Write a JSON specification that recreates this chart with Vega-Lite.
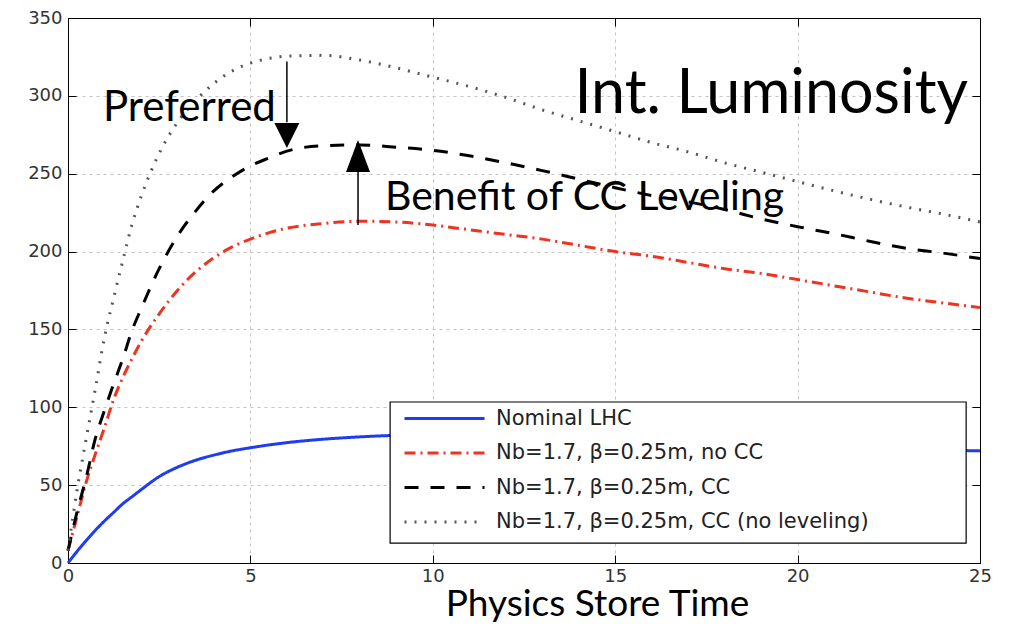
{
  "$schema": "https://vega.github.io/schema/vega-lite/v6.json",
  "width": 912,
  "height": 545,
  "autosize": {"type": "none"},
  "padding": {"left": 68, "top": 18, "right": 32, "bottom": 61},
  "background": "white",
  "config": {
    "view": {"stroke": "black", "strokeWidth": 1},
    "axis": {"domainColor": "black", "tickColor": "black", "labelFont": "DejaVu Sans", "labelFontSize": 18, "labelColor": "#333333", "labelFlush": false},
    "legend": {"orient": "none", "legendX": 365, "legendY": 389, "title": null, "symbolType": "M-4,0L4,0", "symbolSize": 400, "labelFont": "DejaVu Sans", "labelFontSize": 21, "labelColor": "#222222", "rowPadding": 12.5, "labelOffset": 40, "labelLimit": 0, "padding": 0}
  },
  "datasets": {
    "curves": [
      {"t":0,"L":0,"s":"Nominal LHC"},{"t":0.25,"L":7.5,"s":"Nominal LHC"},{"t":0.5,"L":14.5,"s":"Nominal LHC"},{"t":0.75,"L":21,"s":"Nominal LHC"},{"t":1,"L":27,"s":"Nominal LHC"},{"t":1.25,"L":32.5,"s":"Nominal LHC"},{"t":1.5,"L":38,"s":"Nominal LHC"},{"t":1.75,"L":42.5,"s":"Nominal LHC"},{"t":2,"L":47,"s":"Nominal LHC"},{"t":2.5,"L":55.5,"s":"Nominal LHC"},{"t":3,"L":61.5,"s":"Nominal LHC"},{"t":3.5,"L":66,"s":"Nominal LHC"},{"t":4,"L":69.3,"s":"Nominal LHC"},{"t":4.5,"L":72,"s":"Nominal LHC"},{"t":5,"L":74,"s":"Nominal LHC"},{"t":5.5,"L":75.8,"s":"Nominal LHC"},{"t":6,"L":77.3,"s":"Nominal LHC"},{"t":7,"L":79.5,"s":"Nominal LHC"},{"t":8,"L":81,"s":"Nominal LHC"},{"t":9,"L":82,"s":"Nominal LHC"},{"t":10,"L":82.5,"s":"Nominal LHC"},{"t":11,"L":82.5,"s":"Nominal LHC"},{"t":12,"L":82,"s":"Nominal LHC"},{"t":13,"L":81.5,"s":"Nominal LHC"},{"t":14,"L":80.5,"s":"Nominal LHC"},{"t":15,"L":79.5,"s":"Nominal LHC"},{"t":16,"L":78.5,"s":"Nominal LHC"},{"t":17,"L":77.5,"s":"Nominal LHC"},{"t":18,"L":76.5,"s":"Nominal LHC"},{"t":19,"L":75.5,"s":"Nominal LHC"},{"t":20,"L":74.5,"s":"Nominal LHC"},{"t":21,"L":74,"s":"Nominal LHC"},{"t":22,"L":73.5,"s":"Nominal LHC"},{"t":23,"L":73,"s":"Nominal LHC"},{"t":24,"L":72.5,"s":"Nominal LHC"},{"t":25,"L":72,"s":"Nominal LHC"},
      {"t":0,"L":8,"s":"Nb=1.7, β=0.25m, no CC"},{"t":0.25,"L":30,"s":"Nb=1.7, β=0.25m, no CC"},{"t":0.5,"L":52,"s":"Nb=1.7, β=0.25m, no CC"},{"t":0.75,"L":70,"s":"Nb=1.7, β=0.25m, no CC"},{"t":1,"L":87,"s":"Nb=1.7, β=0.25m, no CC"},{"t":1.25,"L":105,"s":"Nb=1.7, β=0.25m, no CC"},{"t":1.5,"L":119,"s":"Nb=1.7, β=0.25m, no CC"},{"t":1.75,"L":131,"s":"Nb=1.7, β=0.25m, no CC"},{"t":2,"L":142,"s":"Nb=1.7, β=0.25m, no CC"},{"t":2.5,"L":160,"s":"Nb=1.7, β=0.25m, no CC"},{"t":3,"L":175,"s":"Nb=1.7, β=0.25m, no CC"},{"t":3.5,"L":187,"s":"Nb=1.7, β=0.25m, no CC"},{"t":4,"L":196,"s":"Nb=1.7, β=0.25m, no CC"},{"t":4.5,"L":203,"s":"Nb=1.7, β=0.25m, no CC"},{"t":5,"L":208,"s":"Nb=1.7, β=0.25m, no CC"},{"t":5.5,"L":212,"s":"Nb=1.7, β=0.25m, no CC"},{"t":6,"L":215,"s":"Nb=1.7, β=0.25m, no CC"},{"t":7,"L":218,"s":"Nb=1.7, β=0.25m, no CC"},{"t":8,"L":219.5,"s":"Nb=1.7, β=0.25m, no CC"},{"t":9,"L":219,"s":"Nb=1.7, β=0.25m, no CC"},{"t":10,"L":217,"s":"Nb=1.7, β=0.25m, no CC"},{"t":11,"L":214,"s":"Nb=1.7, β=0.25m, no CC"},{"t":12,"L":211,"s":"Nb=1.7, β=0.25m, no CC"},{"t":13,"L":208,"s":"Nb=1.7, β=0.25m, no CC"},{"t":14,"L":204,"s":"Nb=1.7, β=0.25m, no CC"},{"t":15,"L":200,"s":"Nb=1.7, β=0.25m, no CC"},{"t":16,"L":197,"s":"Nb=1.7, β=0.25m, no CC"},{"t":17,"L":193,"s":"Nb=1.7, β=0.25m, no CC"},{"t":18,"L":189,"s":"Nb=1.7, β=0.25m, no CC"},{"t":19,"L":186,"s":"Nb=1.7, β=0.25m, no CC"},{"t":20,"L":182,"s":"Nb=1.7, β=0.25m, no CC"},{"t":21,"L":178,"s":"Nb=1.7, β=0.25m, no CC"},{"t":22,"L":174,"s":"Nb=1.7, β=0.25m, no CC"},{"t":23,"L":170,"s":"Nb=1.7, β=0.25m, no CC"},{"t":24,"L":167,"s":"Nb=1.7, β=0.25m, no CC"},{"t":25,"L":164,"s":"Nb=1.7, β=0.25m, no CC"},
      {"t":0,"L":8,"s":"Nb=1.7, β=0.25m, CC"},{"t":0.25,"L":33,"s":"Nb=1.7, β=0.25m, CC"},{"t":0.5,"L":55,"s":"Nb=1.7, β=0.25m, CC"},{"t":0.75,"L":80,"s":"Nb=1.7, β=0.25m, CC"},{"t":1,"L":98,"s":"Nb=1.7, β=0.25m, CC"},{"t":1.25,"L":115,"s":"Nb=1.7, β=0.25m, CC"},{"t":1.5,"L":131,"s":"Nb=1.7, β=0.25m, CC"},{"t":1.75,"L":149,"s":"Nb=1.7, β=0.25m, CC"},{"t":2,"L":163,"s":"Nb=1.7, β=0.25m, CC"},{"t":2.5,"L":189,"s":"Nb=1.7, β=0.25m, CC"},{"t":3,"L":210,"s":"Nb=1.7, β=0.25m, CC"},{"t":3.5,"L":226,"s":"Nb=1.7, β=0.25m, CC"},{"t":4,"L":239,"s":"Nb=1.7, β=0.25m, CC"},{"t":4.5,"L":248,"s":"Nb=1.7, β=0.25m, CC"},{"t":5,"L":255,"s":"Nb=1.7, β=0.25m, CC"},{"t":5.5,"L":260,"s":"Nb=1.7, β=0.25m, CC"},{"t":6,"L":264.5,"s":"Nb=1.7, β=0.25m, CC"},{"t":7,"L":268,"s":"Nb=1.7, β=0.25m, CC"},{"t":8,"L":268.5,"s":"Nb=1.7, β=0.25m, CC"},{"t":9,"L":267,"s":"Nb=1.7, β=0.25m, CC"},{"t":10,"L":265,"s":"Nb=1.7, β=0.25m, CC"},{"t":11,"L":261.5,"s":"Nb=1.7, β=0.25m, CC"},{"t":12,"L":257,"s":"Nb=1.7, β=0.25m, CC"},{"t":13,"L":252,"s":"Nb=1.7, β=0.25m, CC"},{"t":14,"L":246.5,"s":"Nb=1.7, β=0.25m, CC"},{"t":15,"L":241,"s":"Nb=1.7, β=0.25m, CC"},{"t":16,"L":236,"s":"Nb=1.7, β=0.25m, CC"},{"t":17,"L":232,"s":"Nb=1.7, β=0.25m, CC"},{"t":18,"L":227,"s":"Nb=1.7, β=0.25m, CC"},{"t":19,"L":221,"s":"Nb=1.7, β=0.25m, CC"},{"t":20,"L":216,"s":"Nb=1.7, β=0.25m, CC"},{"t":21,"L":211.5,"s":"Nb=1.7, β=0.25m, CC"},{"t":22,"L":206.5,"s":"Nb=1.7, β=0.25m, CC"},{"t":23,"L":202,"s":"Nb=1.7, β=0.25m, CC"},{"t":24,"L":199,"s":"Nb=1.7, β=0.25m, CC"},{"t":25,"L":195.5,"s":"Nb=1.7, β=0.25m, CC"},
      {"t":0,"L":8,"s":"Nb=1.7, β=0.25m, CC (no leveling)"},{"t":0.25,"L":47,"s":"Nb=1.7, β=0.25m, CC (no leveling)"},{"t":0.5,"L":80,"s":"Nb=1.7, β=0.25m, CC (no leveling)"},{"t":0.75,"L":112,"s":"Nb=1.7, β=0.25m, CC (no leveling)"},{"t":1,"L":145,"s":"Nb=1.7, β=0.25m, CC (no leveling)"},{"t":1.25,"L":170,"s":"Nb=1.7, β=0.25m, CC (no leveling)"},{"t":1.5,"L":194,"s":"Nb=1.7, β=0.25m, CC (no leveling)"},{"t":1.75,"L":217,"s":"Nb=1.7, β=0.25m, CC (no leveling)"},{"t":2,"L":235,"s":"Nb=1.7, β=0.25m, CC (no leveling)"},{"t":2.5,"L":263,"s":"Nb=1.7, β=0.25m, CC (no leveling)"},{"t":3,"L":283,"s":"Nb=1.7, β=0.25m, CC (no leveling)"},{"t":3.5,"L":297,"s":"Nb=1.7, β=0.25m, CC (no leveling)"},{"t":4,"L":308,"s":"Nb=1.7, β=0.25m, CC (no leveling)"},{"t":4.5,"L":316,"s":"Nb=1.7, β=0.25m, CC (no leveling)"},{"t":5,"L":321,"s":"Nb=1.7, β=0.25m, CC (no leveling)"},{"t":5.5,"L":324,"s":"Nb=1.7, β=0.25m, CC (no leveling)"},{"t":6,"L":325.5,"s":"Nb=1.7, β=0.25m, CC (no leveling)"},{"t":7,"L":326,"s":"Nb=1.7, β=0.25m, CC (no leveling)"},{"t":8,"L":323,"s":"Nb=1.7, β=0.25m, CC (no leveling)"},{"t":9,"L":318,"s":"Nb=1.7, β=0.25m, CC (no leveling)"},{"t":10,"L":312,"s":"Nb=1.7, β=0.25m, CC (no leveling)"},{"t":11,"L":306,"s":"Nb=1.7, β=0.25m, CC (no leveling)"},{"t":12,"L":299,"s":"Nb=1.7, β=0.25m, CC (no leveling)"},{"t":13,"L":291,"s":"Nb=1.7, β=0.25m, CC (no leveling)"},{"t":14,"L":284,"s":"Nb=1.7, β=0.25m, CC (no leveling)"},{"t":15,"L":277,"s":"Nb=1.7, β=0.25m, CC (no leveling)"},{"t":16,"L":270,"s":"Nb=1.7, β=0.25m, CC (no leveling)"},{"t":17,"L":264,"s":"Nb=1.7, β=0.25m, CC (no leveling)"},{"t":18,"L":257,"s":"Nb=1.7, β=0.25m, CC (no leveling)"},{"t":19,"L":251,"s":"Nb=1.7, β=0.25m, CC (no leveling)"},{"t":20,"L":245,"s":"Nb=1.7, β=0.25m, CC (no leveling)"},{"t":21,"L":239,"s":"Nb=1.7, β=0.25m, CC (no leveling)"},{"t":22,"L":233.5,"s":"Nb=1.7, β=0.25m, CC (no leveling)"},{"t":23,"L":228.5,"s":"Nb=1.7, β=0.25m, CC (no leveling)"},{"t":24,"L":224,"s":"Nb=1.7, β=0.25m, CC (no leveling)"},{"t":25,"L":219,"s":"Nb=1.7, β=0.25m, CC (no leveling)"}
    ],
    "box": [{"x1": 8.83, "x2": 24.62, "y1": 103.4, "y2": 12.8}],
    "shafts": [{"x": 6.0, "y1": 322, "y2": 283}, {"x": 7.95, "y1": 217, "y2": 252}],
    "headDown": [{"x": 6.0, "y": 274.6}],
    "headUp": [{"x": 7.95, "y": 261.4}],
    "notesLeft": [
      {"x": 0.96, "y": 284, "label": "Preferred", "size": 42},
      {"x": 8.69, "y": 226.7, "label": "Benefit of CC Leveling", "size": 41}
    ],
    "notesRight": [
      {"x": 24.67, "y": 289, "label": "Int. Luminosity", "size": 61}
    ]
  },
  "layer": [
    {
      "data": {"name": "curves"},
      "mark": {"type": "line", "interpolate": "monotone"},
      "encoding": {
        "x": {"field": "t", "type": "quantitative", "scale": {"domain": [0, 25], "nice": false, "zero": false},
          "axis": {"orient": "bottom", "values": [0, 5, 10, 15, 20, 25], "tickSize": -8, "labelPadding": 12, "grid": true, "gridDash": [3, 4], "gridColor": "#c4c4c4", "title": "Physics Store Time", "titleFont": "Lato", "titleFontSize": 37, "titleFontWeight": "normal", "titleColor": "black", "titleX": 529, "titleY": 52, "titleAlign": "center", "titleBaseline": "alphabetic"}},
        "y": {"field": "L", "type": "quantitative", "scale": {"domain": [0, 350], "nice": false},
          "axis": {"orient": "left", "values": [0, 50, 100, 150, 200, 250, 300, 350], "tickSize": -8, "labelPadding": 14, "grid": true, "gridDash": [3, 4], "gridColor": "#c4c4c4", "title": null}},
        "color": {"field": "s", "type": "nominal",
          "scale": {"domain": ["Nominal LHC", "Nb=1.7, β=0.25m, no CC", "Nb=1.7, β=0.25m, CC", "Nb=1.7, β=0.25m, CC (no leveling)"], "range": ["#1f3cf0", "#ee3322", "#000000", "#555555"]}},
        "strokeDash": {"field": "s", "type": "nominal",
          "scale": {"domain": ["Nominal LHC", "Nb=1.7, β=0.25m, no CC", "Nb=1.7, β=0.25m, CC", "Nb=1.7, β=0.25m, CC (no leveling)"], "range": [[1, 0], [11, 5, 2, 5], [14, 12], [2, 8]]}},
        "strokeWidth": {"field": "s", "type": "nominal",
          "scale": {"domain": ["Nominal LHC", "Nb=1.7, β=0.25m, no CC", "Nb=1.7, β=0.25m, CC", "Nb=1.7, β=0.25m, CC (no leveling)"], "range": [3, 3, 3.5, 1.8]}}
      }
    },
    {
      "data": {"name": "box"},
      "mark": {"type": "rect", "fill": "white", "stroke": "black", "strokeWidth": 1.2},
      "encoding": {
        "x": {"field": "x1", "type": "quantitative", "axis": {"orient": "top", "values": [0, 5, 10, 15, 20, 25], "labels": false, "tickSize": -8, "domain": true, "grid": false, "title": null}},
        "x2": {"field": "x2"},
        "y": {"field": "y1", "type": "quantitative", "axis": {"orient": "right", "values": [0, 50, 100, 150, 200, 250, 300, 350], "labels": false, "tickSize": -8, "domain": true, "grid": false, "title": null}},
        "y2": {"field": "y2"}
      }
    },
    {
      "data": {"name": "shafts"},
      "mark": {"type": "rule", "color": "black", "strokeWidth": 1.5},
      "encoding": {
        "x": {"field": "x", "type": "quantitative", "axis": null},
        "y": {"field": "y1", "type": "quantitative", "axis": null},
        "y2": {"field": "y2"}
      }
    },
    {
      "data": {"name": "headDown"},
      "mark": {"type": "point", "shape": "M-1,-1L1,-1L0,1Z", "size": 625, "filled": true, "color": "black", "opacity": 1},
      "encoding": {
        "x": {"field": "x", "type": "quantitative", "axis": null},
        "y": {"field": "y", "type": "quantitative", "axis": null}
      }
    },
    {
      "data": {"name": "headUp"},
      "mark": {"type": "point", "shape": "M-0.75,1L0.75,1L0,-1Z", "size": 1024, "filled": true, "color": "black", "opacity": 1},
      "encoding": {
        "x": {"field": "x", "type": "quantitative", "axis": null},
        "y": {"field": "y", "type": "quantitative", "axis": null}
      }
    },
    {
      "data": {"name": "notesLeft"},
      "mark": {"type": "text", "font": "Lato", "baseline": "alphabetic", "align": "left", "color": "black"},
      "encoding": {
        "x": {"field": "x", "type": "quantitative", "axis": null},
        "y": {"field": "y", "type": "quantitative", "axis": null},
        "text": {"field": "label"},
        "size": {"field": "size", "type": "quantitative", "scale": null, "legend": null}
      }
    },
    {
      "data": {"name": "notesRight"},
      "mark": {"type": "text", "font": "Lato", "baseline": "alphabetic", "align": "right", "color": "black"},
      "encoding": {
        "x": {"field": "x", "type": "quantitative", "axis": null},
        "y": {"field": "y", "type": "quantitative", "axis": null},
        "text": {"field": "label"},
        "size": {"field": "size", "type": "quantitative", "scale": null, "legend": null}
      }
    }
  ],
  "resolve": {"axis": {"x": "independent", "y": "independent"}}
}
